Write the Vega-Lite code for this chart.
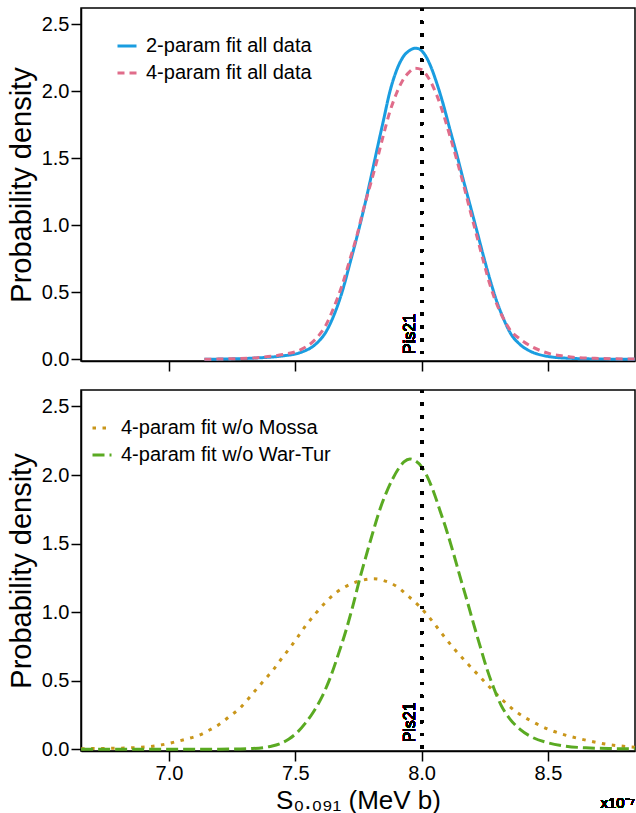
{
  "$schema": "https://vega.github.io/schema/vega-lite/v6.json",
  "padding": {"left": 6, "top": 5, "right": 1, "bottom": 2},
  "background": "white",
  "config": {
    "font": "Liberation Sans",
    "view": {"stroke": "black", "strokeWidth": 1.5},
    "axis": {
      "grid": false,
      "domainColor": "black",
      "domainWidth": 1.5,
      "tickColor": "black",
      "tickWidth": 1.5,
      "tickSize": 10,
      "labelColor": "black",
      "labelFontSize": 20,
      "labelPadding": 2,
      "titleColor": "black",
      "titleFontSize": 29,
      "titleFontWeight": "normal"
    },
    "legend": {
      "labelFontSize": 20,
      "labelColor": "black",
      "labelLimit": 500,
      "symbolType": "stroke",
      "symbolStrokeWidth": 3,
      "symbolSize": 361,
      "rowPadding": 6,
      "labelOffset": 8
    }
  },
  "data": {"values": [
    {"panel": "top", "series": "2-param fit all data", "x": 7.14, "y": 0.0},
    {"panel": "top", "series": "2-param fit all data", "x": 7.25, "y": 0.003},
    {"panel": "top", "series": "2-param fit all data", "x": 7.35, "y": 0.01},
    {"panel": "top", "series": "2-param fit all data", "x": 7.45, "y": 0.025},
    {"panel": "top", "series": "2-param fit all data", "x": 7.52, "y": 0.05},
    {"panel": "top", "series": "2-param fit all data", "x": 7.585, "y": 0.12},
    {"panel": "top", "series": "2-param fit all data", "x": 7.62, "y": 0.2},
    {"panel": "top", "series": "2-param fit all data", "x": 7.651, "y": 0.32},
    {"panel": "top", "series": "2-param fit all data", "x": 7.685, "y": 0.5},
    {"panel": "top", "series": "2-param fit all data", "x": 7.717, "y": 0.72},
    {"panel": "top", "series": "2-param fit all data", "x": 7.745, "y": 0.92},
    {"panel": "top", "series": "2-param fit all data", "x": 7.77, "y": 1.11},
    {"panel": "top", "series": "2-param fit all data", "x": 7.8, "y": 1.36},
    {"panel": "top", "series": "2-param fit all data", "x": 7.823, "y": 1.56},
    {"panel": "top", "series": "2-param fit all data", "x": 7.85, "y": 1.79},
    {"panel": "top", "series": "2-param fit all data", "x": 7.875, "y": 2.0},
    {"panel": "top", "series": "2-param fit all data", "x": 7.9, "y": 2.15},
    {"panel": "top", "series": "2-param fit all data", "x": 7.925, "y": 2.25},
    {"panel": "top", "series": "2-param fit all data", "x": 7.95, "y": 2.3},
    {"panel": "top", "series": "2-param fit all data", "x": 7.975, "y": 2.32},
    {"panel": "top", "series": "2-param fit all data", "x": 7.99, "y": 2.315},
    {"panel": "top", "series": "2-param fit all data", "x": 8.01, "y": 2.28},
    {"panel": "top", "series": "2-param fit all data", "x": 8.035, "y": 2.19},
    {"panel": "top", "series": "2-param fit all data", "x": 8.06, "y": 2.06},
    {"panel": "top", "series": "2-param fit all data", "x": 8.086, "y": 1.9},
    {"panel": "top", "series": "2-param fit all data", "x": 8.11, "y": 1.73},
    {"panel": "top", "series": "2-param fit all data", "x": 8.139, "y": 1.53},
    {"panel": "top", "series": "2-param fit all data", "x": 8.165, "y": 1.34},
    {"panel": "top", "series": "2-param fit all data", "x": 8.192, "y": 1.15},
    {"panel": "top", "series": "2-param fit all data", "x": 8.22, "y": 0.95},
    {"panel": "top", "series": "2-param fit all data", "x": 8.245, "y": 0.77},
    {"panel": "top", "series": "2-param fit all data", "x": 8.27, "y": 0.6},
    {"panel": "top", "series": "2-param fit all data", "x": 8.298, "y": 0.43},
    {"panel": "top", "series": "2-param fit all data", "x": 8.325, "y": 0.3},
    {"panel": "top", "series": "2-param fit all data", "x": 8.35, "y": 0.2},
    {"panel": "top", "series": "2-param fit all data", "x": 8.39, "y": 0.11},
    {"panel": "top", "series": "2-param fit all data", "x": 8.43, "y": 0.06},
    {"panel": "top", "series": "2-param fit all data", "x": 8.47, "y": 0.033},
    {"panel": "top", "series": "2-param fit all data", "x": 8.51, "y": 0.018},
    {"panel": "top", "series": "2-param fit all data", "x": 8.6, "y": 0.006},
    {"panel": "top", "series": "2-param fit all data", "x": 8.7, "y": 0.002},
    {"panel": "top", "series": "2-param fit all data", "x": 8.845, "y": 0.0},
    {"panel": "top", "series": "4-param fit all data", "x": 7.14, "y": 0.0},
    {"panel": "top", "series": "4-param fit all data", "x": 7.25, "y": 0.004},
    {"panel": "top", "series": "4-param fit all data", "x": 7.35, "y": 0.012},
    {"panel": "top", "series": "4-param fit all data", "x": 7.45, "y": 0.035},
    {"panel": "top", "series": "4-param fit all data", "x": 7.52, "y": 0.07},
    {"panel": "top", "series": "4-param fit all data", "x": 7.585, "y": 0.16},
    {"panel": "top", "series": "4-param fit all data", "x": 7.62, "y": 0.25},
    {"panel": "top", "series": "4-param fit all data", "x": 7.651, "y": 0.38},
    {"panel": "top", "series": "4-param fit all data", "x": 7.685, "y": 0.55},
    {"panel": "top", "series": "4-param fit all data", "x": 7.717, "y": 0.75},
    {"panel": "top", "series": "4-param fit all data", "x": 7.745, "y": 0.93},
    {"panel": "top", "series": "4-param fit all data", "x": 7.77, "y": 1.12},
    {"panel": "top", "series": "4-param fit all data", "x": 7.8, "y": 1.32},
    {"panel": "top", "series": "4-param fit all data", "x": 7.823, "y": 1.48},
    {"panel": "top", "series": "4-param fit all data", "x": 7.85, "y": 1.68},
    {"panel": "top", "series": "4-param fit all data", "x": 7.875, "y": 1.85},
    {"panel": "top", "series": "4-param fit all data", "x": 7.9, "y": 1.98},
    {"panel": "top", "series": "4-param fit all data", "x": 7.925, "y": 2.08},
    {"panel": "top", "series": "4-param fit all data", "x": 7.95, "y": 2.14},
    {"panel": "top", "series": "4-param fit all data", "x": 7.975, "y": 2.17},
    {"panel": "top", "series": "4-param fit all data", "x": 8.0, "y": 2.16},
    {"panel": "top", "series": "4-param fit all data", "x": 8.03, "y": 2.09},
    {"panel": "top", "series": "4-param fit all data", "x": 8.06, "y": 1.97},
    {"panel": "top", "series": "4-param fit all data", "x": 8.086, "y": 1.83},
    {"panel": "top", "series": "4-param fit all data", "x": 8.11, "y": 1.68},
    {"panel": "top", "series": "4-param fit all data", "x": 8.139, "y": 1.49},
    {"panel": "top", "series": "4-param fit all data", "x": 8.165, "y": 1.31},
    {"panel": "top", "series": "4-param fit all data", "x": 8.192, "y": 1.11},
    {"panel": "top", "series": "4-param fit all data", "x": 8.22, "y": 0.91},
    {"panel": "top", "series": "4-param fit all data", "x": 8.245, "y": 0.73},
    {"panel": "top", "series": "4-param fit all data", "x": 8.27, "y": 0.56},
    {"panel": "top", "series": "4-param fit all data", "x": 8.298, "y": 0.41},
    {"panel": "top", "series": "4-param fit all data", "x": 8.325, "y": 0.3},
    {"panel": "top", "series": "4-param fit all data", "x": 8.35, "y": 0.22},
    {"panel": "top", "series": "4-param fit all data", "x": 8.39, "y": 0.15},
    {"panel": "top", "series": "4-param fit all data", "x": 8.43, "y": 0.1},
    {"panel": "top", "series": "4-param fit all data", "x": 8.47, "y": 0.065},
    {"panel": "top", "series": "4-param fit all data", "x": 8.51, "y": 0.04},
    {"panel": "top", "series": "4-param fit all data", "x": 8.56, "y": 0.025},
    {"panel": "top", "series": "4-param fit all data", "x": 8.6, "y": 0.015},
    {"panel": "top", "series": "4-param fit all data", "x": 8.7, "y": 0.006},
    {"panel": "top", "series": "4-param fit all data", "x": 8.845, "y": 0.002},
    {"panel": "bottom", "series": "4-param fit w/o Mossa", "x": 6.652, "y": 0.004},
    {"panel": "bottom", "series": "4-param fit w/o Mossa", "x": 6.75, "y": 0.006},
    {"panel": "bottom", "series": "4-param fit w/o Mossa", "x": 6.85, "y": 0.01},
    {"panel": "bottom", "series": "4-param fit w/o Mossa", "x": 6.912, "y": 0.017},
    {"panel": "bottom", "series": "4-param fit w/o Mossa", "x": 6.96, "y": 0.028},
    {"panel": "bottom", "series": "4-param fit w/o Mossa", "x": 7.017, "y": 0.05},
    {"panel": "bottom", "series": "4-param fit w/o Mossa", "x": 7.07, "y": 0.075},
    {"panel": "bottom", "series": "4-param fit w/o Mossa", "x": 7.123, "y": 0.105},
    {"panel": "bottom", "series": "4-param fit w/o Mossa", "x": 7.16, "y": 0.14},
    {"panel": "bottom", "series": "4-param fit w/o Mossa", "x": 7.202, "y": 0.185},
    {"panel": "bottom", "series": "4-param fit w/o Mossa", "x": 7.24, "y": 0.24},
    {"panel": "bottom", "series": "4-param fit w/o Mossa", "x": 7.281, "y": 0.3},
    {"panel": "bottom", "series": "4-param fit w/o Mossa", "x": 7.315, "y": 0.37},
    {"panel": "bottom", "series": "4-param fit w/o Mossa", "x": 7.347, "y": 0.44},
    {"panel": "bottom", "series": "4-param fit w/o Mossa", "x": 7.38, "y": 0.51},
    {"panel": "bottom", "series": "4-param fit w/o Mossa", "x": 7.413, "y": 0.58},
    {"panel": "bottom", "series": "4-param fit w/o Mossa", "x": 7.445, "y": 0.66},
    {"panel": "bottom", "series": "4-param fit w/o Mossa", "x": 7.479, "y": 0.74},
    {"panel": "bottom", "series": "4-param fit w/o Mossa", "x": 7.51, "y": 0.82},
    {"panel": "bottom", "series": "4-param fit w/o Mossa", "x": 7.545, "y": 0.91},
    {"panel": "bottom", "series": "4-param fit w/o Mossa", "x": 7.585, "y": 1.0},
    {"panel": "bottom", "series": "4-param fit w/o Mossa", "x": 7.624, "y": 1.08},
    {"panel": "bottom", "series": "4-param fit w/o Mossa", "x": 7.66, "y": 1.14},
    {"panel": "bottom", "series": "4-param fit w/o Mossa", "x": 7.703, "y": 1.19},
    {"panel": "bottom", "series": "4-param fit w/o Mossa", "x": 7.75, "y": 1.225},
    {"panel": "bottom", "series": "4-param fit w/o Mossa", "x": 7.81, "y": 1.243},
    {"panel": "bottom", "series": "4-param fit w/o Mossa", "x": 7.85, "y": 1.23},
    {"panel": "bottom", "series": "4-param fit w/o Mossa", "x": 7.899, "y": 1.19},
    {"panel": "bottom", "series": "4-param fit w/o Mossa", "x": 7.945, "y": 1.12},
    {"panel": "bottom", "series": "4-param fit w/o Mossa", "x": 7.99, "y": 1.045},
    {"panel": "bottom", "series": "4-param fit w/o Mossa", "x": 8.04, "y": 0.94},
    {"panel": "bottom", "series": "4-param fit w/o Mossa", "x": 8.086, "y": 0.83},
    {"panel": "bottom", "series": "4-param fit w/o Mossa", "x": 8.13, "y": 0.73},
    {"panel": "bottom", "series": "4-param fit w/o Mossa", "x": 8.179, "y": 0.63},
    {"panel": "bottom", "series": "4-param fit w/o Mossa", "x": 8.225, "y": 0.54},
    {"panel": "bottom", "series": "4-param fit w/o Mossa", "x": 8.271, "y": 0.45},
    {"panel": "bottom", "series": "4-param fit w/o Mossa", "x": 8.32, "y": 0.36},
    {"panel": "bottom", "series": "4-param fit w/o Mossa", "x": 8.377, "y": 0.27},
    {"panel": "bottom", "series": "4-param fit w/o Mossa", "x": 8.44, "y": 0.2},
    {"panel": "bottom", "series": "4-param fit w/o Mossa", "x": 8.509, "y": 0.14},
    {"panel": "bottom", "series": "4-param fit w/o Mossa", "x": 8.575, "y": 0.1},
    {"panel": "bottom", "series": "4-param fit w/o Mossa", "x": 8.641, "y": 0.07},
    {"panel": "bottom", "series": "4-param fit w/o Mossa", "x": 8.72, "y": 0.04},
    {"panel": "bottom", "series": "4-param fit w/o Mossa", "x": 8.78, "y": 0.025},
    {"panel": "bottom", "series": "4-param fit w/o Mossa", "x": 8.845, "y": 0.015},
    {"panel": "bottom", "series": "4-param fit w/o War-Tur", "x": 6.652, "y": 0.0},
    {"panel": "bottom", "series": "4-param fit w/o War-Tur", "x": 6.9, "y": 0.0},
    {"panel": "bottom", "series": "4-param fit w/o War-Tur", "x": 7.1, "y": 0.0},
    {"panel": "bottom", "series": "4-param fit w/o War-Tur", "x": 7.25, "y": 0.001},
    {"panel": "bottom", "series": "4-param fit w/o War-Tur", "x": 7.33, "y": 0.005},
    {"panel": "bottom", "series": "4-param fit w/o War-Tur", "x": 7.4, "y": 0.02},
    {"panel": "bottom", "series": "4-param fit w/o War-Tur", "x": 7.44, "y": 0.04},
    {"panel": "bottom", "series": "4-param fit w/o War-Tur", "x": 7.475, "y": 0.075},
    {"panel": "bottom", "series": "4-param fit w/o War-Tur", "x": 7.506, "y": 0.12},
    {"panel": "bottom", "series": "4-param fit w/o War-Tur", "x": 7.54, "y": 0.19},
    {"panel": "bottom", "series": "4-param fit w/o War-Tur", "x": 7.571, "y": 0.27},
    {"panel": "bottom", "series": "4-param fit w/o War-Tur", "x": 7.605, "y": 0.38},
    {"panel": "bottom", "series": "4-param fit w/o War-Tur", "x": 7.638, "y": 0.52},
    {"panel": "bottom", "series": "4-param fit w/o War-Tur", "x": 7.67, "y": 0.69},
    {"panel": "bottom", "series": "4-param fit w/o War-Tur", "x": 7.703, "y": 0.88},
    {"panel": "bottom", "series": "4-param fit w/o War-Tur", "x": 7.73, "y": 1.06},
    {"panel": "bottom", "series": "4-param fit w/o War-Tur", "x": 7.756, "y": 1.25},
    {"panel": "bottom", "series": "4-param fit w/o War-Tur", "x": 7.785, "y": 1.44},
    {"panel": "bottom", "series": "4-param fit w/o War-Tur", "x": 7.81, "y": 1.6},
    {"panel": "bottom", "series": "4-param fit w/o War-Tur", "x": 7.837, "y": 1.76},
    {"panel": "bottom", "series": "4-param fit w/o War-Tur", "x": 7.86, "y": 1.87},
    {"panel": "bottom", "series": "4-param fit w/o War-Tur", "x": 7.885, "y": 1.97},
    {"panel": "bottom", "series": "4-param fit w/o War-Tur", "x": 7.91, "y": 2.05},
    {"panel": "bottom", "series": "4-param fit w/o War-Tur", "x": 7.93, "y": 2.095},
    {"panel": "bottom", "series": "4-param fit w/o War-Tur", "x": 7.954, "y": 2.117},
    {"panel": "bottom", "series": "4-param fit w/o War-Tur", "x": 7.978, "y": 2.1},
    {"panel": "bottom", "series": "4-param fit w/o War-Tur", "x": 8.0, "y": 2.06},
    {"panel": "bottom", "series": "4-param fit w/o War-Tur", "x": 8.022, "y": 1.99},
    {"panel": "bottom", "series": "4-param fit w/o War-Tur", "x": 8.047, "y": 1.88},
    {"panel": "bottom", "series": "4-param fit w/o War-Tur", "x": 8.073, "y": 1.74},
    {"panel": "bottom", "series": "4-param fit w/o War-Tur", "x": 8.1, "y": 1.59},
    {"panel": "bottom", "series": "4-param fit w/o War-Tur", "x": 8.126, "y": 1.43},
    {"panel": "bottom", "series": "4-param fit w/o War-Tur", "x": 8.152, "y": 1.26},
    {"panel": "bottom", "series": "4-param fit w/o War-Tur", "x": 8.179, "y": 1.09},
    {"panel": "bottom", "series": "4-param fit w/o War-Tur", "x": 8.205, "y": 0.92},
    {"panel": "bottom", "series": "4-param fit w/o War-Tur", "x": 8.232, "y": 0.75},
    {"panel": "bottom", "series": "4-param fit w/o War-Tur", "x": 8.258, "y": 0.59},
    {"panel": "bottom", "series": "4-param fit w/o War-Tur", "x": 8.285, "y": 0.45},
    {"panel": "bottom", "series": "4-param fit w/o War-Tur", "x": 8.315, "y": 0.32},
    {"panel": "bottom", "series": "4-param fit w/o War-Tur", "x": 8.35, "y": 0.22},
    {"panel": "bottom", "series": "4-param fit w/o War-Tur", "x": 8.39, "y": 0.145},
    {"panel": "bottom", "series": "4-param fit w/o War-Tur", "x": 8.43, "y": 0.095},
    {"panel": "bottom", "series": "4-param fit w/o War-Tur", "x": 8.49, "y": 0.052},
    {"panel": "bottom", "series": "4-param fit w/o War-Tur", "x": 8.56, "y": 0.025},
    {"panel": "bottom", "series": "4-param fit w/o War-Tur", "x": 8.65, "y": 0.01},
    {"panel": "bottom", "series": "4-param fit w/o War-Tur", "x": 8.75, "y": 0.005},
    {"panel": "bottom", "series": "4-param fit w/o War-Tur", "x": 8.845, "y": 0.003}
  ]},
  "spacing": 29,
  "bounds": "flush",
  "resolve": {
    "scale": {"x": "independent", "y": "independent", "color": "independent", "strokeDash": "independent"},
    "legend": {"color": "independent", "strokeDash": "independent"}
  },
  "vconcat": [
    {
      "width": 554,
      "height": 353,
      "layer": [
        {
          "transform": [{"filter": "datum.panel === 'top'"}],
          "mark": {"type": "line", "strokeWidth": 3, "interpolate": "monotone", "strokeCap": "butt"},
          "encoding": {
            "x": {"field": "x", "type": "quantitative", "scale": {"domain": [6.6515, 8.845], "nice": false, "zero": false},
                  "axis": {"values": [7.0, 7.5, 8.0, 8.5], "labels": false, "title": null}},
            "y": {"field": "y", "type": "quantitative", "scale": {"domain": [-0.013, 2.62], "nice": false, "zero": false},
                  "axis": {"values": [0, 0.5, 1, 1.5, 2, 2.5], "format": ".1f", "title": "Probability density", "titlePadding": 5}},
            "color": {"field": "series", "type": "nominal",
                      "scale": {"domain": ["2-param fit all data", "4-param fit all data"], "range": ["#1a9de0", "#e06c8a"]},
                      "legend": {"title": null, "orient": "none", "legendX": 35, "legendY": 27}},
            "strokeDash": {"field": "series", "type": "nominal",
                      "scale": {"domain": ["2-param fit all data", "4-param fit all data"], "range": [[1, 0], [7, 5]]},
                      "legend": {"title": null, "orient": "none", "legendX": 35, "legendY": 27}}
          }
        },
        {
          "mark": {"type": "rule", "color": "black", "strokeWidth": 3, "strokeDash": [3, 9.7]},
          "encoding": {"x": {"datum": 8.0}}
        },
        {
          "mark": {"type": "text", "angle": 270, "align": "left", "baseline": "bottom", "fontSize": 16, "dy": -4, "color": "black"},
          "encoding": {"x": {"datum": 8.0}, "y": {"datum": 0.04}, "text": {"value": "Pis21"}}
        }
      ]
    },
    {
      "width": 554,
      "height": 361,
      "layer": [
        {
          "transform": [{"filter": "datum.panel === 'bottom'"}],
          "mark": {"type": "line", "strokeWidth": 3, "interpolate": "monotone", "strokeCap": "butt"},
          "encoding": {
            "x": {"field": "x", "type": "quantitative", "scale": {"domain": [6.6515, 8.845], "nice": false, "zero": false},
                  "axis": {"values": [7.0, 7.5, 8.0, 8.5], "format": ".1f", "title": "S₀.₀₉₁ (MeV b)", "titlePadding": 4, "titleFontSize": 26}},
            "y": {"field": "y", "type": "quantitative", "scale": {"domain": [-0.013, 2.62], "nice": false, "zero": false},
                  "axis": {"values": [0, 0.5, 1, 1.5, 2, 2.5], "format": ".1f", "title": "Probability density", "titlePadding": 5}},
            "color": {"field": "series", "type": "nominal",
                      "scale": {"domain": ["4-param fit w/o Mossa", "4-param fit w/o War-Tur"], "range": ["#c9961a", "#5aaa22"]},
                      "legend": {"title": null, "orient": "none", "legendX": 10, "legendY": 27}},
            "strokeDash": {"field": "series", "type": "nominal",
                      "scale": {"domain": ["4-param fit w/o Mossa", "4-param fit w/o War-Tur"], "range": [[3.5, 6.5], [12, 5]]},
                      "legend": {"title": null, "orient": "none", "legendX": 10, "legendY": 27}}
          }
        },
        {
          "mark": {"type": "rule", "color": "black", "strokeWidth": 3, "strokeDash": [3, 9.7]},
          "encoding": {"x": {"datum": 8.0}}
        },
        {
          "mark": {"type": "text", "angle": 270, "align": "left", "baseline": "bottom", "fontSize": 16, "dy": -4, "color": "black"},
          "encoding": {"x": {"datum": 8.0}, "y": {"datum": 0.05}, "text": {"value": "Pis21"}}
        },
        {
          "mark": {"type": "text", "align": "right", "baseline": "middle", "fontSize": 15, "color": "black"},
          "encoding": {"x": {"datum": 8.845}, "y": {"datum": -0.39}, "text": {"value": "x10⁻⁷"}}
        }
      ]
    }
  ]
}
